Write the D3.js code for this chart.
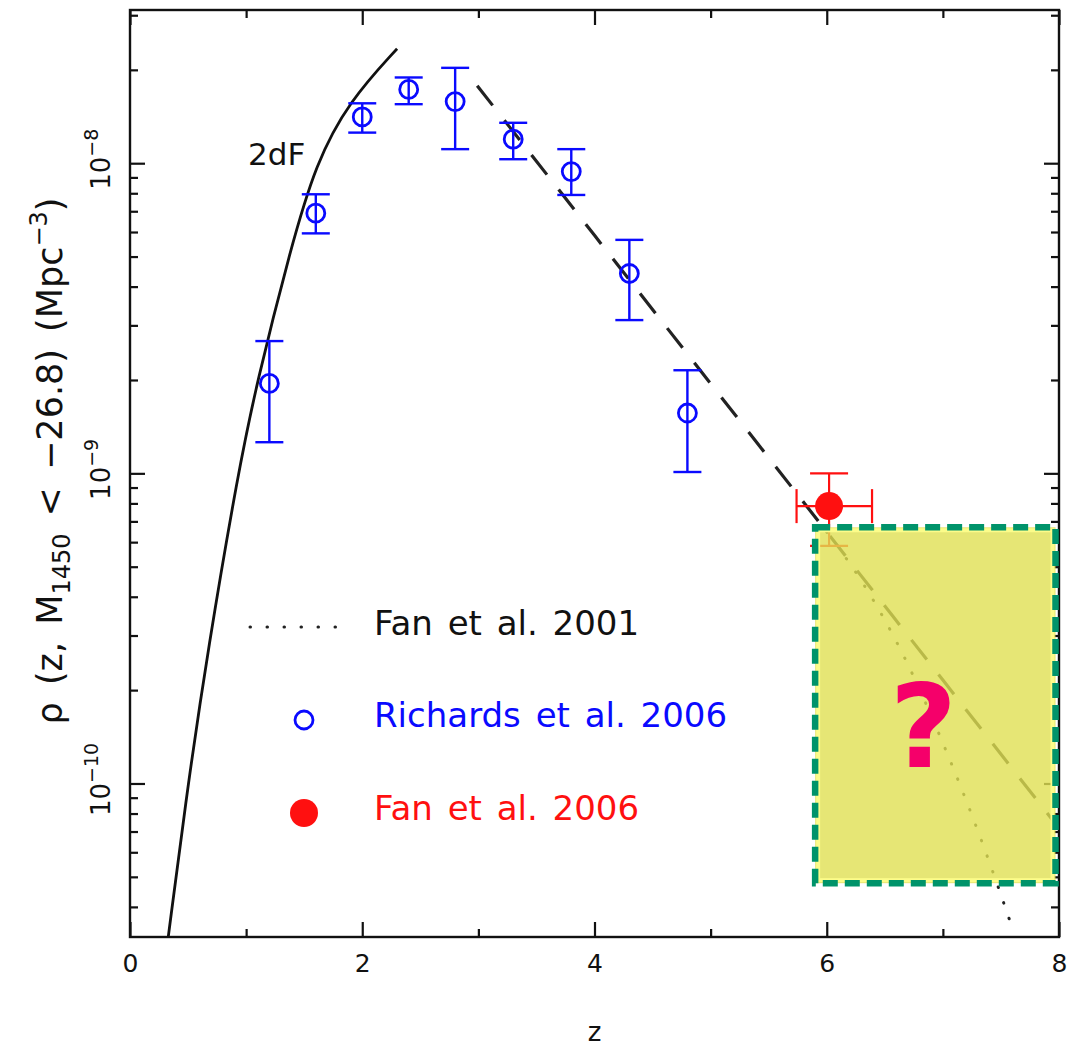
<!DOCTYPE html>
<html>
<head>
<meta charset="utf-8">
<script src="https://cdn.jsdelivr.net/npm/d3@7"></script>
<style>
  body { margin: 0; background: #fff; }
  svg { display: block; }
  text { font-family: "DejaVu Sans", sans-serif; }
</style>
</head>
<body>
<svg id="chart" width="1075" height="1049"></svg>
<script>
// Richards et al. 2006 binned space densities, with upper / lower error limits
const richardsZ   = [1.2, 1.6, 2.0, 2.4, 2.8, 3.3, 3.8, 4.3, 4.8];
const richardsRho = [1.95e-9, 6.90e-9, 1.41e-8, 1.73e-8, 1.58e-8, 1.195e-8, 9.40e-9, 4.41e-9, 1.565e-9];
const richardsHi  = [2.67e-9, 7.94e-9, 1.56e-8, 1.89e-8, 2.03e-8, 1.35e-8, 1.11e-8, 5.66e-9, 2.15e-9];
const richardsLo  = [1.26e-9, 5.94e-9, 1.255e-8, 1.55e-8, 1.11e-8, 1.03e-8, 7.90e-9, 3.12e-9, 1.01e-9];

// Fan et al. 2006 high-redshift point (redshift range and density range)
const fanZ   = [6.02];
const fanZLo = [5.74];
const fanZHi = [6.39];
const fanRho = [7.84e-10];
const fanHi  = [1.0e-9];
const fanLo  = [5.84e-10];

// 2dF luminosity function curve
const twodfZ   = [0.33, 0.50, 0.67, 0.93, 1.09, 1.38, 1.60, 1.89, 2.30];
const twodfRho = [3.21e-11, 1.00e-10, 2.69e-10, 1.00e-9, 1.95e-9, 5.25e-9, 1.00e-8, 1.59e-8, 2.34e-8];

// high-redshift fit (dashed)
const fitZ   = [2.99, 4.0, 5.0, 6.0, 7.0, 8.0];
const fitRho = [1.778e-8, 5.853e-9, 1.947e-9, 6.475e-10, 2.155e-10, 7.17e-11];

// Fan et al. 2001 extrapolation (dotted)
const fan01Z   = [6.0, 6.31, 6.66, 7.0, 7.41, 7.59];
const fan01Rho = [6.47e-10, 4.43e-10, 2.59e-10, 1.35e-10, 5.45e-11, 3.49e-11];

// highlighted unknown region
const regionZ   = [5.90, 7.97];
const regionRho = [6.7e-10, 4.77e-11];

// axis ticks
const zMajor = [0, 2, 4, 6, 8];
const zMinor = [1, 3, 5, 7];
const rhoMajor = [1e-10, 1e-9, 1e-8];
const rhoMinorMantissa = [2, 3, 4, 5, 6, 7, 8, 9];

// legend entries
const legendLabels = ["Fan et al. 2001", "Richards et al. 2006", "Fan et al. 2006"];

const svg = d3.select("#chart");
const W = 1075, H = 1049;
svg.append("rect").attr("width", W).attr("height", H).attr("fill", "#fff");

const pLeft = 130, pRight = 1059, pTop = 10, pBottom = 937;
const x = d3.scaleLinear().domain([0, 8]).range([pLeft, pRight]);
const y = d3.scaleLog().domain([Math.pow(10, -10.495), Math.pow(10, -7.506)]).range([pBottom, pTop]);

svg.append("clipPath").attr("id", "plotclip")
  .append("rect").attr("x", pLeft).attr("y", pTop).attr("width", pRight - pLeft).attr("height", pBottom - pTop);

const ink = "#111";
const fs = 25;

// ----- axes -----
const axes = svg.append("g").attr("class", "axes");
function tickAxis(gen, transform, values, size, labels) {
  const g = axes.append("g").attr("transform", transform)
    .call(gen.tickValues(values).tickSizeInner(-size).tickSizeOuter(0)
      .tickFormat(labels ? labels : () => ""));
  g.select(".domain").remove();
  g.selectAll(".tick line").attr("stroke", ink).attr("stroke-width", 2.2);
  return g;
}
const rhoMinor = [];
[-11, -10, -9, -8].forEach(e => rhoMinorMantissa.forEach(m => {
  const v = m * Math.pow(10, e);
  if (v > y.domain()[0] && v < y.domain()[1]) rhoMinor.push(v);
}));

const xb = tickAxis(d3.axisBottom(x).tickPadding(17), `translate(0,${pBottom})`, zMajor, 15, d3.format("d"));
xb.selectAll(".tick text").attr("font-size", fs).attr("fill", ink).attr("font-family", "DejaVu Sans");
tickAxis(d3.axisBottom(x), `translate(0,${pBottom})`, zMinor, 8);
tickAxis(d3.axisTop(x), `translate(0,${pTop})`, zMajor, 15);
tickAxis(d3.axisTop(x), `translate(0,${pTop})`, zMinor, 8);
tickAxis(d3.axisLeft(y), `translate(${pLeft},0)`, rhoMajor, 15);
tickAxis(d3.axisLeft(y), `translate(${pLeft},0)`, rhoMinor, 8);
tickAxis(d3.axisRight(y), `translate(${pRight},0)`, rhoMajor, 15);
tickAxis(d3.axisRight(y), `translate(${pRight},0)`, rhoMinor, 8);

axes.append("rect").attr("x", pLeft).attr("y", pTop)
  .attr("width", pRight - pLeft).attr("height", pBottom - pTop)
  .attr("fill", "none").attr("stroke", ink).attr("stroke-width", 2.4);

// rotated power-of-ten labels on the left axis
rhoMajor.forEach(v => {
  const t = axes.append("text")
    .attr("transform", `translate(110,${y(v) - 4}) rotate(-90)`)
    .attr("text-anchor", "middle").attr("font-size", 26).attr("fill", ink);
  t.append("tspan").text("10");
  t.append("tspan").attr("font-size", 19).attr("dy", -12)
    .text("\u2212" + Math.round(-Math.log10(v)));
});

// axis titles
svg.append("text").attr("x", x(4)).attr("y", 1041)
  .attr("text-anchor", "middle").attr("font-size", 26).attr("fill", ink).text("z");

const yl = svg.append("text")
  .attr("transform", "translate(62,461) rotate(-90)")
  .attr("text-anchor", "middle").attr("font-size", 35).attr("fill", ink)
  .attr("word-spacing", 6).style("white-space", "pre");
yl.append("tspan").text("\u03c1 (z, M");
yl.append("tspan").attr("font-size", 24).attr("dy", 8).text("1450");
yl.append("tspan").attr("dy", -8).text(" < \u221226.8) (Mpc");
yl.append("tspan").attr("font-size", 24).attr("dy", -15).text("\u22123");
yl.append("tspan").attr("dy", 15).text(")");

// ----- curves -----
const plot = svg.append("g").attr("clip-path", "url(#plotclip)");
const smooth = d3.line().x(d => x(d[0])).y(d => y(d[1])).curve(d3.curveBasis);
const line = d3.line().x(d => x(d[0])).y(d => y(d[1])).curve(d3.curveMonotoneX);

plot.append("path").datum(d3.zip(twodfZ, twodfRho))
  .attr("d", smooth).attr("fill", "none").attr("stroke", ink).attr("stroke-width", 2.8);

plot.append("path").datum(d3.zip(fitZ, fitRho))
  .attr("d", line).attr("fill", "none").attr("stroke", "#222")
  .attr("stroke-width", 3.2).attr("stroke-dasharray", "25,19");

plot.append("path").datum(d3.zip(fan01Z, fan01Rho))
  .attr("d", line).attr("fill", "none").attr("stroke", "#222")
  .attr("stroke-width", 3).attr("stroke-linecap", "round").attr("stroke-dasharray", "0.5,16");

svg.append("text").attr("x", 248).attr("y", 165).attr("font-size", 31).attr("fill", ink).text("2dF");

// ----- Richards et al. 2006 points -----
const blue = "#0a0aff";
const rich = svg.append("g").attr("stroke", blue).attr("stroke-width", 2.4).attr("fill", "none");
richardsZ.forEach((z, i) => {
  const cx = x(z);
  rich.append("line").attr("x1", cx).attr("x2", cx).attr("y1", y(richardsHi[i])).attr("y2", y(richardsLo[i]));
  rich.append("line").attr("x1", cx - 14).attr("x2", cx + 14).attr("y1", y(richardsHi[i])).attr("y2", y(richardsHi[i]));
  rich.append("line").attr("x1", cx - 14).attr("x2", cx + 14).attr("y1", y(richardsLo[i])).attr("y2", y(richardsLo[i]));
  rich.append("circle").attr("cx", cx).attr("cy", y(richardsRho[i])).attr("r", 9).attr("stroke-width", 2.8);
});

// ----- Fan et al. 2006 point -----
const red = "#ff1010";
const fan = svg.append("g").attr("stroke", red).attr("stroke-width", 2.2);
fanZ.forEach((z, i) => {
  const cx = x(z), cy = y(fanRho[i]);
  fan.append("line").attr("x1", cx).attr("x2", cx).attr("y1", y(fanHi[i])).attr("y2", y(fanLo[i]));
  fan.append("line").attr("x1", cx - 19).attr("x2", cx + 19).attr("y1", y(fanHi[i])).attr("y2", y(fanHi[i]));
  fan.append("line").attr("x1", cx - 19).attr("x2", cx + 19).attr("y1", y(fanLo[i])).attr("y2", y(fanLo[i]));
  fan.append("line").attr("x1", x(fanZLo[i])).attr("x2", x(fanZHi[i])).attr("y1", cy).attr("y2", cy);
  fan.append("line").attr("x1", x(fanZLo[i])).attr("x2", x(fanZLo[i])).attr("y1", cy - 17).attr("y2", cy + 17);
  fan.append("line").attr("x1", x(fanZHi[i])).attr("x2", x(fanZHi[i])).attr("y1", cy - 17).attr("y2", cy + 17);
  fan.append("circle").attr("cx", cx).attr("cy", cy).attr("r", 14).attr("fill", red).attr("stroke", "none");
});

// ----- legend -----
const lg = svg.append("g");
lg.append("line").attr("x1", 250).attr("x2", 352).attr("y1", 627).attr("y2", 627)
  .attr("stroke", "#222").attr("stroke-width", 3).attr("stroke-linecap", "round")
  .attr("stroke-dasharray", "0.5,16.5");
lg.append("circle").attr("cx", 304).attr("cy", 720).attr("r", 9)
  .attr("fill", "none").attr("stroke", blue).attr("stroke-width", 2.8);
lg.append("circle").attr("cx", 304).attr("cy", 813).attr("r", 14).attr("fill", red);
const legendColors = [ink, blue, red];
const legendY = [635, 727, 820];
legendLabels.forEach((s, i) => {
  lg.append("text").attr("x", 374).attr("y", legendY[i]).attr("font-size", 34)
    .attr("word-spacing", 4).attr("fill", legendColors[i]).text(s);
});

// ----- highlighted region with question mark -----
const rx0 = x(regionZ[0]), rx1 = x(regionZ[1]);
const ry0 = y(regionRho[0]), ry1 = y(regionRho[1]);
const region = svg.append("g");
region.append("rect").attr("x", rx0).attr("y", ry0).attr("width", rx1 - rx0).attr("height", ry1 - ry0)
  .attr("fill", "#e0e052").attr("fill-opacity", 0.8);
region.append("rect").attr("x", rx0 + 3).attr("y", ry0 + 3).attr("width", rx1 - rx0 - 6).attr("height", ry1 - ry0 - 6)
  .attr("fill", "none").attr("stroke", "#fcfc8a").attr("stroke-width", 4);
region.append("rect").attr("x", rx0).attr("y", ry0).attr("width", rx1 - rx0).attr("height", ry1 - ry0)
  .attr("fill", "none").attr("stroke", "#00936a").attr("stroke-width", 6.5)
  .attr("stroke-dasharray", "15,7");
region.append("text").attr("x", (rx0 + rx1) / 2 - 12).attr("y", 767)
  .attr("text-anchor", "middle").attr("font-size", 116).attr("font-weight", "bold")
  .attr("fill", "#f5006a").text("?");
</script>
</body>
</html>
